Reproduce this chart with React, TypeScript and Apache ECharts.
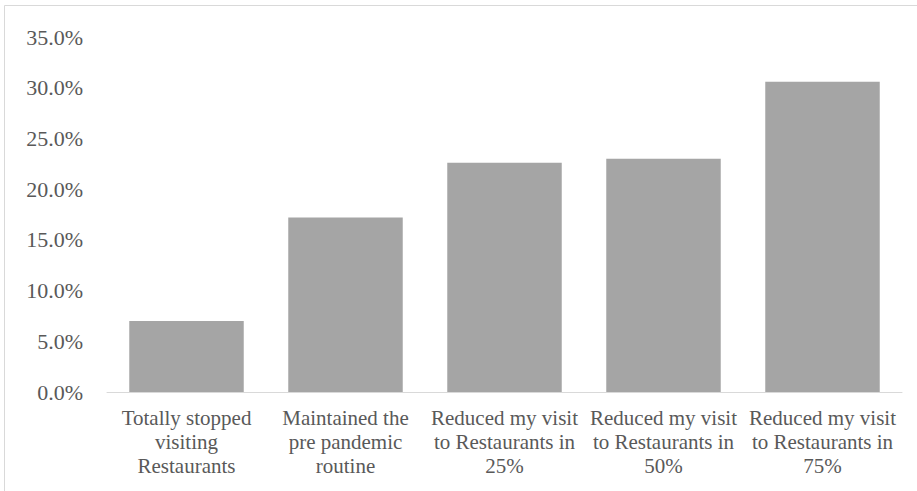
import React, { useEffect, useRef } from "react";
import * as echarts from "echarts";

const categories = [
  "Totally stopped\nvisiting\nRestaurants",
  "Maintained the\npre pandemic\nroutine",
  "Reduced my visit\nto Restaurants in\n25%",
  "Reduced my visit\nto Restaurants in\n50%",
  "Reduced my visit\nto Restaurants in\n75%",
];
const shares = [7.0, 17.2, 22.6, 23.0, 30.6];
const yMin = 0;
const yMax = 35;
const yStep = 5;

const FONT = "Liberation Serif";
const TEXT = "#595959";

export default function App() {
  const ref = useRef<HTMLDivElement>(null);

  useEffect(() => {
    if (!ref.current) return;
    const chart = echarts.init(ref.current, undefined, { renderer: "svg" });
    chart.setOption({
      animation: false,
      backgroundColor: "#ffffff",
      textStyle: { fontFamily: FONT },
      grid: { left: 107, right: 15, top: 37, bottom: 99, containLabel: false },
      graphic: [
        {
          type: "rect",
          shape: { x: 4.5, y: 5.5, width: 1000, height: 1000 },
          style: { fill: "none", stroke: "#d9d9d9", lineWidth: 1 },
          silent: true,
        },
      ],
      xAxis: {
        type: "category",
        data: categories,
        axisLine: { show: true, lineStyle: { color: "#d9d9d9", width: 1 } },
        axisTick: { show: false },
        axisLabel: {
          interval: 0,
          color: TEXT,
          fontFamily: FONT,
          fontSize: 21,
          lineHeight: 24,
          margin: 14,
          align: "center",
        },
      },
      yAxis: {
        type: "value",
        min: yMin,
        max: yMax,
        interval: yStep,
        axisLine: { show: false },
        axisTick: { show: false },
        splitLine: { show: false },
        axisLabel: {
          color: TEXT,
          fontFamily: FONT,
          fontSize: 22,
          margin: 24,
          formatter: (v: number) => v.toFixed(1) + "%",
        },
      },
      series: [
        {
          type: "bar",
          data: shares,
          barCategoryGap: "28%",
          itemStyle: { color: "#a5a5a5" },
        },
      ],
    });
    return () => chart.dispose();
  }, []);

  return (
    <div
      ref={ref}
      style={{ position: "fixed", left: 0, top: 0, width: 917, height: 491 }}
    />
  );
}
